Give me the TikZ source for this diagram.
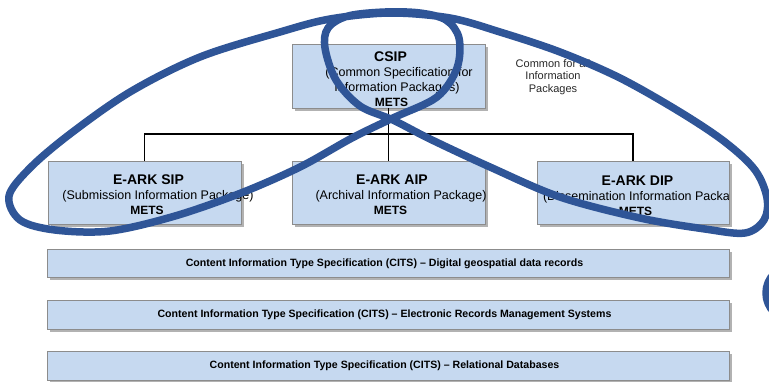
\documentclass[tikz,border=0pt]{standalone}
\usepackage{fontspec}
\setmainfont{Liberation Sans}
\usetikzlibrary{shadows}
\definecolor{boxfill}{RGB}{198,217,240}
\definecolor{boxline}{RGB}{140,140,140}
\definecolor{loopblue}{RGB}{47,85,151}
\definecolor{txtgray}{RGB}{40,40,40}
\newcommand\pkgtitle{\fontsize{14}{16}\selectfont\bfseries}
\newcommand\pkgmets{\fontsize{12}{14}\selectfont\bfseries}
\newcommand\shiftline[2]{\makebox[0pt]{\hspace*{#1}#2}}
\tikzset{
  pkgbox/.style={draw=boxline, line width=0.9pt, fill=boxfill, minimum width=193pt, minimum height=63pt,
    inner sep=0pt,
    drop shadow={shadow xshift=2.5pt, shadow yshift=-2.5pt, opacity=0.3, fill=black}},
  pkgtext/.style={inner sep=0pt, align=center, font=\fontsize{12.5}{15}\selectfont},
  citsbox/.style={draw=boxline, line width=0.9pt, fill=boxfill, minimum width=682pt, minimum height=28.5pt,
    inner sep=0pt, font=\fontsize{10.6}{12}\selectfont\bfseries,
    drop shadow={shadow xshift=2.5pt, shadow yshift=-2.5pt, opacity=0.3, fill=black}},
  treeline/.style={draw=black, line width=1.4pt},
  loopline/.style={draw=loopblue, line width=7.5pt, line join=round, line cap=round},
  note/.style={font=\fontsize{11}{12.5}\selectfont, text=txtgray, align=center}
}
\begin{document}
\begin{tikzpicture}[x=1pt, y=-1pt]
\useasboundingbox (0,0) rectangle (769,381);
\clip (0,0) rectangle (769,381);

% package boxes
\node[pkgbox, minimum height=64pt,
  label={[pkgtext, name=csiptext, yshift=-3.5pt]center:{\shiftline{4pt}{\pkgtitle CSIP}\\\shiftline{21pt}{(Common Specification for}\\
       \shiftline{17pt}{Information Packages)}\\\shiftline{6pt}{\pkgmets METS}}}] (csip) at (388.5,76) {};
\node[pkgbox,
  label={[pkgtext, name=siptext, yshift=-2.5pt]center:{\shiftline{8pt}{\pkgtitle E-ARK SIP}\\\shiftline{27pt}{(Submission Information Package)}\\
       \shiftline{5pt}{\pkgmets METS}}}] (sip) at (144.5,192.5) {};
\node[pkgbox,
  label={[pkgtext, name=aiptext, yshift=-2.5pt]center:{\shiftline{7pt}{\pkgtitle E-ARK AIP}\\\shiftline{25pt}{(Archival Information Package)}\\
       \shiftline{4pt}{\pkgmets METS}}}] (aip) at (388.5,192.5) {};
% DIP text is cut off at the box edge
\node[pkgbox, minimum width=192pt, path picture={
    \node[pkgtext] (diptext) at ([yshift=-2.5pt]path picture bounding box.center)
      {\shiftline{9pt}{\pkgtitle E-ARK DIP}\\\shiftline{25pt}{(Dissemination Information Package)}\\
       \shiftline{5pt}{\pkgmets METS}};
  }] (dip) at (633,193) {};

% CITS boxes
\node[citsbox] (c1) at (388,263.5) {\makebox[0pt]{Content Information Type Specification (CITS) -- Digital geospatial data records\hspace*{7pt}}};
\node[citsbox] (c2) at (388,315) {\makebox[0pt]{Content Information Type Specification (CITS) -- Electronic Records Management Systems\hspace*{7pt}}};
\node[citsbox] (c3) at (388,366) {\makebox[0pt]{Content Information Type Specification (CITS) -- Relational Databases\hspace*{7pt}}};

\node[note] (common) at (553,77) {Common for all\\Information\\Packages};

% tree connectors
\coordinate (bus) at (0,134);
\draw[treeline] (csip.south) -- (aip.north);
\draw[treeline] (sip.north) -- (sip.north |- bus) -| (dip.north);

% blue loop
\draw[loopline] plot[smooth cycle, tension=0.55] coordinates {
  (393,118) (437,97) (457,68) (459,38) (446,20) (420,13) (385,12) (348,16) (328,28) (325,48)
  (336,80) (360,106) (393,120) (430,139) (490,167) (560,197) (640,218) (705,229) (745,233)
  (764,220) (767,198) (755,170) (725,142) (680,112) (620,78) (560,52) (500,32) (450,18)
  (390,13) (330,19) (280,32) (200,57) (130,92) (70,134) (30,168) (9,196) (20,220)
  (55,230) (110,231) (175,216) (241,193) (300,167) (352,138)
};

% partial loop at right edge
\draw[loopline] (793,293) circle (27pt);
\end{tikzpicture}
\end{document}
